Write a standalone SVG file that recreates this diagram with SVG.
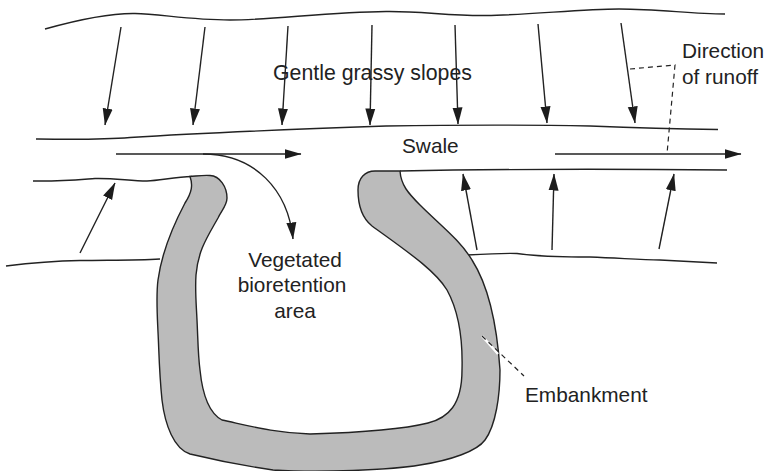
<svg xmlns="http://www.w3.org/2000/svg" width="772" height="471" viewBox="0 0 772 471">
<style>
.l{fill:none;stroke:#222;stroke-width:1.4}
.a{fill:none;stroke:#222;stroke-width:1.4;marker-end:url(#h)}
.d{fill:none;stroke:#222;stroke-width:1.2;stroke-dasharray:5 4}
text{font-family:"Liberation Sans",Arial,sans-serif;font-size:20.8px;fill:#222}
</style>
<defs><marker id="h" markerUnits="userSpaceOnUse" markerWidth="17" markerHeight="11" refX="16.5" refY="5.500" orient="auto"><path d="M0,0.500L17,5.500L0,10.500Z" fill="#1c1c1c"/></marker></defs>
<rect width="772" height="471" fill="#fff"/>
<g id="terrain">
<path class="l" d="M45,29C70,22 105,13 135,13.500C160,14 190,20 230,20C270,20 330,12 386,11.500C420,11 450,16 486,15.500C530,15 580,9 619,9C660,9 690,14 725,14"/>
<path class="l" d="M36,139C70,139.500 100,140 130,137.500C200,133 300,129 386,126C450,125 540,125 590,126C640,128 680,129 718,129.500"/>
<path class="l" d="M33,181C60,181.500 75,180 95,178.500C115,178 130,181 147,181C160,180.500 175,177 192,176.500"/>
<path class="l" d="M6,266C30,263 50,261 80,260.500C110,260 135,260.500 160,259"/>
<path class="l" d="M400,171C500,169 620,169 727,170"/>
<path class="l" d="M467,255C485,254 505,253 517,253.500C535,256 560,257 590,257C620,258 640,260 660,260C680,261 700,262 717,263"/>
</g>
<g id="embankment">
<path d="M190,176.500C197,176 203,175 210,175.500C220,176 227,187 227,198C227,205 222,210 218,218C208,236 198,250 196,275C195,290 196,300 197,320C198,340 198,355 200,370C202,390 207,412 222,420C250,426 275,433 310,434C345,433 400,430 428,423C448,418 462,405 462,370C463,335 458,310 447,290C435,270 405,250 372,226C362,218 358,205 358,190C358,178 365,171 375,171L400,171C401,185 408,193 420,205C440,225 460,240 472,260C488,285 497,325 500,370C500,395 496,425 485,440C477,451 452,460 420,465C390,470 320,473 273,470C245,466 215,460 190,454C174,449 165,425 162,400C159,370 159,350 158,332C157,310 156,295 158,280C162,250 175,222 185,203C192,192 193,185 190,176.500Z" fill="#bbb" stroke="#222" stroke-width="1.4"/>
</g>
<g id="connectors">
<path class="a" d="M121,27L105,125"/>
<path class="a" d="M205,27L193,125"/>
<path class="a" d="M288,26L282,125"/>
<path class="a" d="M372,25L370,125"/>
<path class="a" d="M455,25L458,124"/>
<path class="a" d="M538,24L547,123"/>
<path class="a" d="M621,23L635,123"/>
<path class="a" d="M116,154L301,154"/>
<path class="a" d="M203,154C255,154 288,190 293,239"/>
<path class="a" d="M555,154L741,154"/>
<path class="a" d="M80,253L115,183"/>
<path class="a" d="M477,250L463,174"/>
<path class="a" d="M552,250L554,174"/>
<path class="a" d="M659,249L674,174"/>
<path class="d" d="M630,69L675,65L667,154"/>
<path d="M482,336L498,354" fill="none" stroke="#fff" stroke-width="2.500"/>
<path class="d" d="M482,336L524,376"/>
</g>
<g id="labels">
<text x="273" y="80" style="font-size:21.300px">Gentle grassy slopes</text>
<text x="402" y="153">Swale</text>
<text x="682" y="58">Direction</text>
<text x="682" y="84">of runoff</text>
<text x="295" y="266.700" text-anchor="middle">Vegetated</text>
<text x="292" y="291.700" text-anchor="middle">bioretention</text>
<text x="295" y="317.700" text-anchor="middle">area</text>
<text x="525" y="401.500">Embankment</text>
</g>
</svg>
